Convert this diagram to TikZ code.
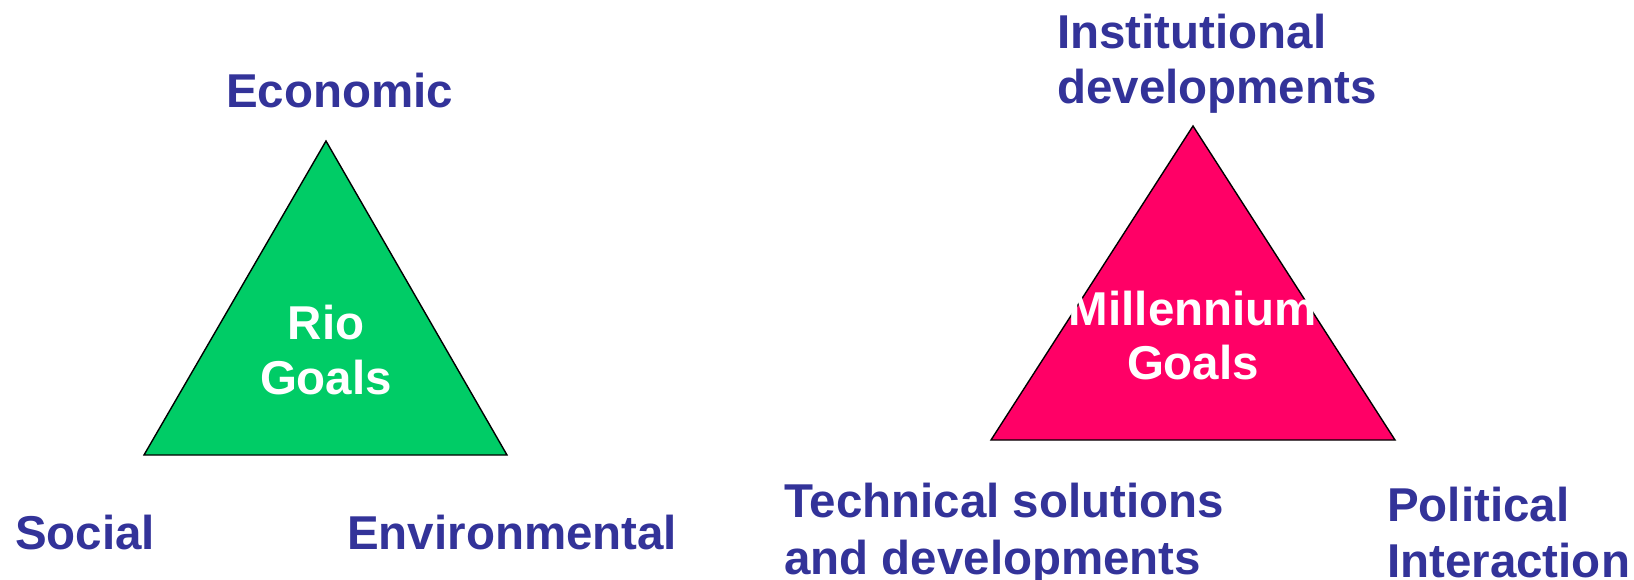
\documentclass[tikz,border=0pt]{standalone}
\usepackage{fontspec}
\setmainfont{Liberation Sans}
\definecolor{lbl}{HTML}{333399}
\definecolor{rio}{HTML}{00CC66}
\definecolor{mil}{HTML}{FF0066}
\begin{document}
\begin{tikzpicture}[x=1pt,y=-1pt,
  lbltext/.style={font=\fontsize{47.5}{56}\selectfont\bfseries, text=lbl, inner sep=0pt, align=left},
  intext/.style={font=\fontsize{47.5}{56}\selectfont\bfseries, text=white, inner sep=0pt, align=center},
  tri/.style={draw=black, line width=1.4pt, line join=miter}]
\useasboundingbox (0,0) rectangle (1634,580);
% left triangle
\coordinate (la) at (326,141);
\coordinate (lb) at (144,455);
\coordinate (lc) at (507,455);
\draw[tri, fill=rio] (la) -- (lb) -- (lc) -- cycle;
\node[intext, anchor=base] (rio1) at (326,339) {Rio};
\node[intext, anchor=base] (rio2) at (326,394) {Goals};
% right triangle
\coordinate (ra) at (1193,126);
\coordinate (rb) at (991,440);
\coordinate (rc) at (1395,440);
\draw[tri, fill=mil] (ra) -- (rb) -- (rc) -- cycle;
\node[intext, anchor=base] (mil1) at (1193,325) {Millennium};
\node[intext, anchor=base] (mil2) at (1193,379) {Goals};
% labels left
\node[lbltext, anchor=base west] (eco) at (226,108) {Economic};
\node[lbltext, anchor=base west] (soc) at (15,549) {Social};
\node[lbltext, anchor=base west] (env) at (347,549) {Environmental};
% labels right
\node[lbltext, anchor=base west] (inst1) at (1057,49) {Institutional};
\node[lbltext, anchor=base west] (inst2) at (1057,104) {developments};
\node[lbltext, anchor=base west] (tech1) at (784,517) {Technical solutions};
\node[lbltext, anchor=base west] (tech2) at (784,574) {and developments};
\node[lbltext, anchor=base west] (pol1) at (1387,521) {Political};
\node[lbltext, anchor=base west] (pol2) at (1387,577) {Interaction};
\end{tikzpicture}
\end{document}
